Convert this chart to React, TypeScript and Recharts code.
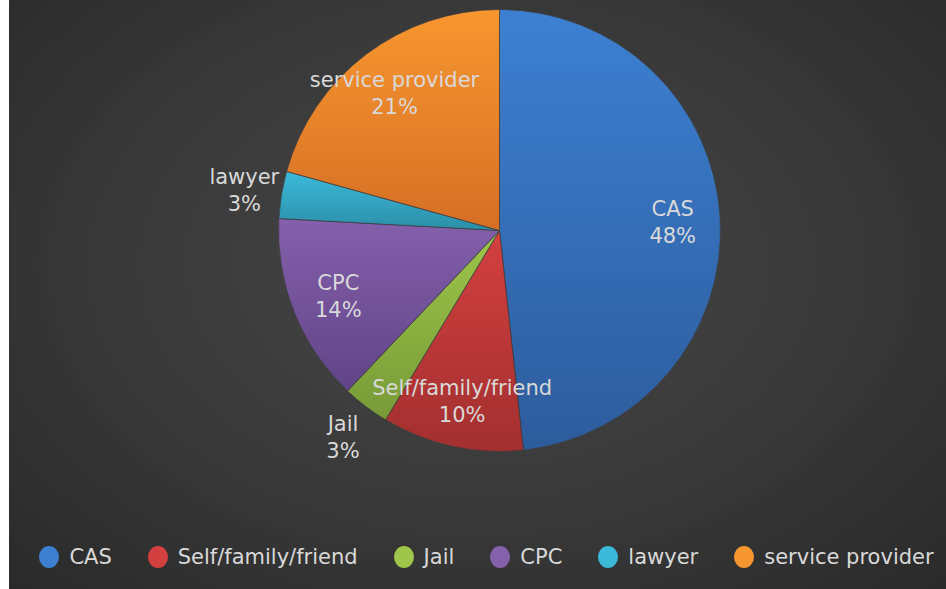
import React from 'react';
import { PieChart, Pie, Cell, Legend } from 'recharts';

const categories = ['CAS', 'Self/family/friend', 'Jail', 'CPC', 'lawyer', 'service provider'];
const counts = [14, 3, 1, 4, 1, 6];
const topColors = ['#3d80d2', '#d44040', '#9dc64a', '#8560ac', '#3cb9d9', '#f8962f'];
const bottomColors = ['#2d5c9c', '#a22f2f', '#779a37', '#604486', '#2b8fa8', '#d56f25'];

const data = categories.map((name, i) => ({ name, value: counts[i] }));

const FONT = '"DejaVu Sans", sans-serif';
const TEXT = '#d9d9d9';
const RAD = Math.PI / 180;

const renderLabel = (props: any) => {
  const { cx, cy, midAngle, outerRadius, percent, name } = props;
  // small slices sit outside the pie, the rest inside
  const r = outerRadius * (percent < 0.05 ? 1.17 : 0.785);
  const x = cx + r * Math.cos(-midAngle * RAD);
  const y = cy + r * Math.sin(-midAngle * RAD);
  return (
    <text x={x} y={y} fill={TEXT} textAnchor="middle" fontFamily={FONT} fontSize={21}>
      <tspan x={x} y={y - 5}>{name}</tspan>
      <tspan x={x} y={y + 22}>{`${Math.round(percent * 100)}%`}</tspan>
    </text>
  );
};

const renderLegend = () => (
  <div style={{ display: 'flex', justifyContent: 'center', fontFamily: FONT, fontSize: 21, color: TEXT, paddingLeft: 18 }}>
    {categories.map((name, i) => (
      <div key={name} style={{ display: 'flex', alignItems: 'center', marginRight: i < categories.length - 1 ? 36 : 0 }}>
        <svg width={20} height={22} style={{ marginRight: 10 }}>
          <ellipse cx={10} cy={11} rx={10} ry={11} fill={topColors[i]} />
        </svg>
        <span>{name}</span>
      </div>
    ))}
  </div>
);

export default function App() {
  return (
    <div
      style={{
        position: 'absolute',
        left: 9,
        top: 0,
        width: 937,
        height: 589,
        background: 'radial-gradient(ellipse farthest-corner at 50% 45%, #474747 0%, #3a3a3a 50%, #2a2a2a 100%)',
      }}
    >
      <PieChart width={937} height={589} margin={{ top: 0, right: 0, bottom: 0, left: 0 }}>
        <defs>
          {categories.map((c, i) => (
            <linearGradient key={c} id={`slice${i}`} x1="0" y1="0" x2="0" y2="1">
              <stop offset="0%" stopColor={topColors[i]} />
              <stop offset="100%" stopColor={bottomColors[i]} />
            </linearGradient>
          ))}
        </defs>
        <Pie
          data={data}
          dataKey="value"
          nameKey="name"
          cx={490.5}
          cy={230.5}
          outerRadius={221}
          startAngle={90}
          endAngle={-270}
          stroke="#3c3c3c"
          strokeWidth={0.75}
          label={renderLabel}
          labelLine={false}
          isAnimationActive={false}
        >
          {data.map((d, i) => (
            <Cell key={d.name} fill={`url(#slice${i})`} />
          ))}
        </Pie>
        <Legend
          verticalAlign="bottom"
          align="center"
          content={renderLegend}
          wrapperStyle={{ bottom: 20 }}
        />
      </PieChart>
    </div>
  );
}
